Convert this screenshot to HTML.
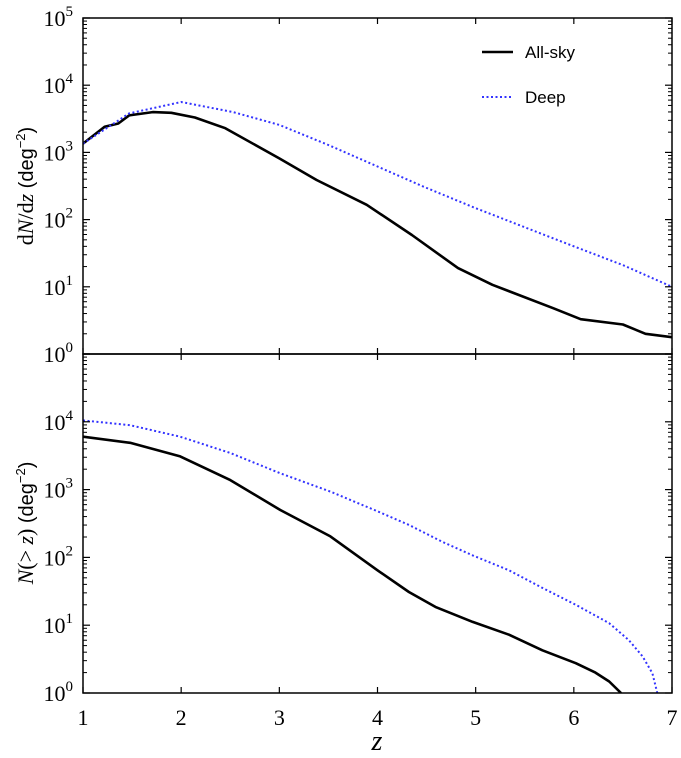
<!DOCTYPE html>
<html><head><meta charset="utf-8"><style>
body{margin:0;background:#fff}
</style></head><body>
<svg id="c" width="681" height="758" style="position:absolute;left:0;top:0" xmlns="http://www.w3.org/2000/svg"></svg>
<script>
const zTop = [1,1.22,1.36,1.47,1.71,1.9,2.14,2.45,3.0,3.38,3.89,4.35,4.82,5.17,5.79,6.07,6.5,6.73,7.0];
const allSkyDiff = [1350,2400,2690,3550,3980,3890,3310,2290,813,389,166,59,19,10.7,4.8,3.3,2.75,2.0,1.78];
const zDeepTop = [1,1.47,2,2.53,3,3.5,4,4.47,5,5.48,6,6.5,7];
const deepDiff = [1350,3800,5620,3980,2570,1290,617,309,148,79,40,21,10];
const zAllCum = [1,1.48,1.99,2.5,3.01,3.52,4.0,4.32,4.59,4.97,5.34,5.68,6.02,6.22,6.36,6.48];
const allSkyCum = [6030,4900,3090,1380,501,204,64.6,30.9,18.6,11.2,7.24,4.27,2.75,2.0,1.48,1.0];
const zDeepCum = [1,1.48,1.99,2.5,3.01,3.52,4.0,4.32,4.66,4.97,5.34,5.68,6.02,6.36,6.56,6.70,6.80,6.85];
const deepCum = [10500,8910,6030,3470,1740,933,479,302,170,107,64.6,35.5,20,10.7,6.03,3.47,1.95,1.0];
const xTicks = [1,2,3,4,5,6,7];
const decades = [0,1,2,3,4,5];

const svg = document.getElementById('c');
const NS = 'http://www.w3.org/2000/svg';
const X0=83, X1=672;
const xs = z => X0 + (z-1)/6*(X1-X0);
function mk(tag, attrs, parent){const e=document.createElementNS(NS,tag);for(const k in attrs)e.setAttribute(k,attrs[k]);(parent||svg).appendChild(e);return e;}

const panels = [
 {top:18,bot:354,name:'top-panel',series:[[zTop,allSkyDiff,'all-sky-dndz-line',false],[zDeepTop,deepDiff,'deep-dndz-line',true]]},
 {top:354,bot:693,name:'bottom-panel',series:[[zAllCum,allSkyCum,'all-sky-cumulative-line',false],[zDeepCum,deepCum,'deep-cumulative-line',true]]}
];
panels.forEach((p,pi)=>{
  const ys = v => p.bot - Math.log10(v)/5*(p.bot-p.top);
  const g = mk('g',{});
  
  
  const cid='clip'+pi;
  const cp=mk('clipPath',{id:cid},g); mk('rect',{x:X0,y:p.top,width:X1-X0,height:p.bot-p.top},cp);
  p.series.forEach(s=>{
    const d=s[0].map((z,i)=>(i?'L':'M')+xs(z).toFixed(1)+','+ys(s[1][i]).toFixed(1)).join('');
    const path=mk('path',{d:d,fill:'none',stroke:s[3]?'#3333ff':'#000','stroke-width':s[3]?2:2.6,'stroke-dasharray':s[3]?'2,2.5':'none','stroke-linejoin':'round','clip-path':'url(#'+cid+')'},g);
    
    
  });
  decades.forEach(k=>{
    const y=ys(Math.pow(10,k));
    mk('line',{x1:X0,x2:X0+7,y1:y,y2:y,stroke:'#000','stroke-width':1.2},g);
    mk('line',{x1:X1,x2:X1-7,y1:y,y2:y,stroke:'#000','stroke-width':1.2},g);
    if(!(pi===1&&k===5)){
      const t=mk('text',{x:X0-10,y:y+8,'text-anchor':'end','font-size':22,style:'font-family:"Liberation Serif",serif'},g);
      t.innerHTML='10<tspan dy="-10" font-size="15">'+k+'</tspan>';
      
      
    }
    if(k<5)for(let m=2;m<10;m++){const ym=ys(m*Math.pow(10,k));
      mk('line',{x1:X0,x2:X0+4,y1:ym,y2:ym,stroke:'#000','stroke-width':1},g);
      mk('line',{x1:X1,x2:X1-4,y1:ym,y2:ym,stroke:'#000','stroke-width':1},g);}
  });
  xTicks.forEach(z=>{const x=xs(z);
    mk('line',{x1:x,x2:x,y1:p.bot,y2:p.bot-6,stroke:'#000','stroke-width':1.2},g);
    mk('line',{x1:x,x2:x,y1:p.top,y2:p.top+6,stroke:'#000','stroke-width':1.2},g);
    if(pi===1){const t=mk('text',{x:x,y:p.bot+32,'text-anchor':'middle','font-size':22,style:'font-family:"Liberation Serif",serif'},g);t.textContent=z;
      
      }
  });
  mk('rect',{x:X0,y:p.top,width:X1-X0,height:p.bot-p.top,fill:'none',stroke:'#000','stroke-width':1.5},g);
});
</script>
<svg style="position:absolute;left:0;top:0" width="681" height="758">
 <g>
  <line x1="482" y1="52" x2="513" y2="52" stroke="#000" stroke-width="2.6"/>
  <text x="525" y="58" style="font-family:'Liberation Sans',sans-serif" font-size="17">All-sky</text>
  <line x1="482" y1="97" x2="513" y2="97" stroke="#3333ff" stroke-width="2" stroke-dasharray="2,2.5"/>
  <text x="525" y="103" style="font-family:'Liberation Sans',sans-serif" font-size="17">Deep</text>
 </g>
 <text transform="translate(33,186) rotate(-90)" text-anchor="middle" font-size="22" style="font-family:'Liberation Serif',serif">d<tspan font-style="italic">N</tspan>/d<tspan font-style="italic">z</tspan> <tspan style="font-family:'Liberation Sans',sans-serif" font-size="20">(deg<tspan dy="-8" font-size="13">−2</tspan><tspan dy="8">)</tspan></tspan></text>
 <text transform="translate(33,523) rotate(-90)" text-anchor="middle" font-size="22" style="font-family:'Liberation Serif',serif"><tspan font-style="italic">N</tspan>(&gt; <tspan font-style="italic">z</tspan>) <tspan style="font-family:'Liberation Sans',sans-serif" font-size="20">(deg<tspan dy="-8" font-size="13">−2</tspan><tspan dy="8">)</tspan></tspan></text>
 <text x="377" y="750" text-anchor="middle" font-size="28" font-style="italic" style="font-family:'Liberation Serif',serif">z</text>
</svg>
</body></html>
